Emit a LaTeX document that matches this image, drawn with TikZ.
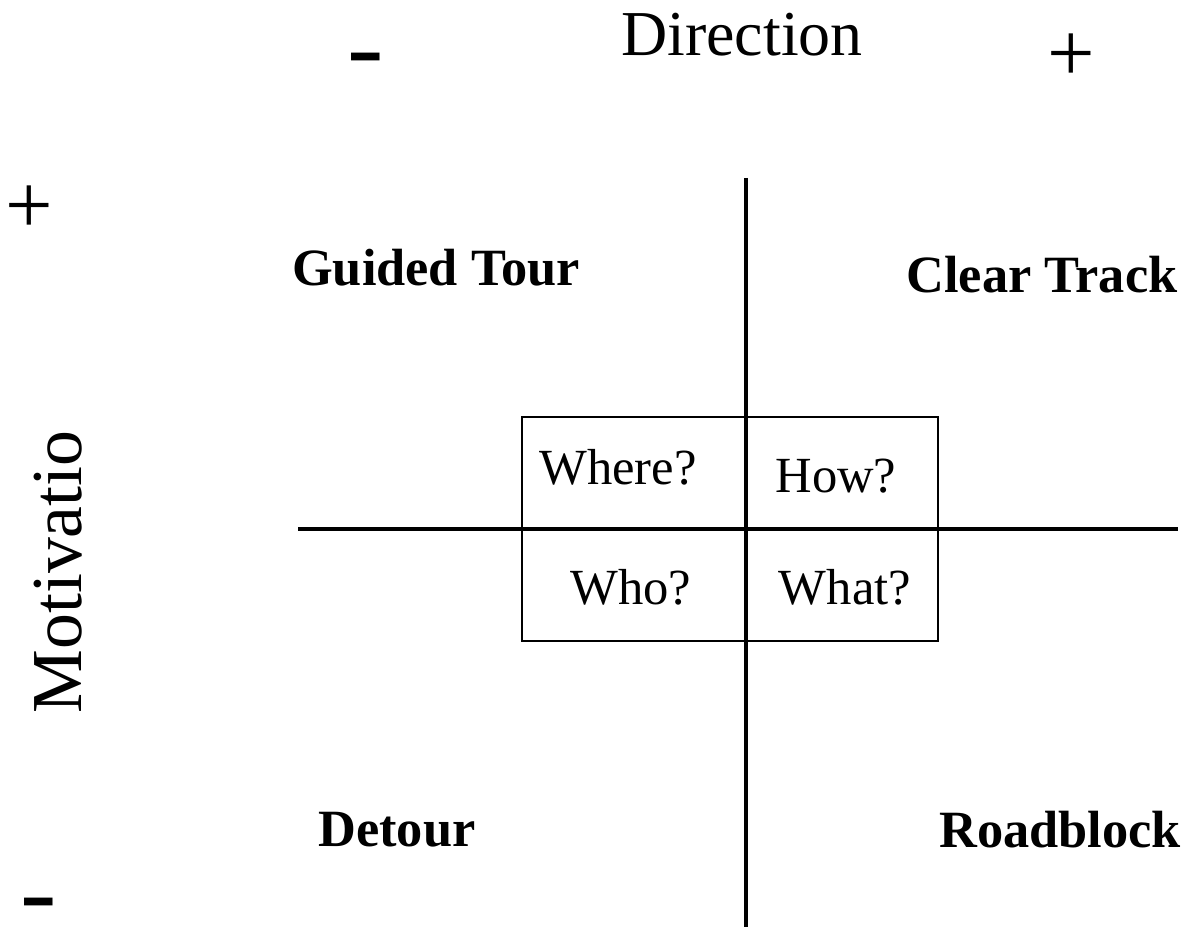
\documentclass[tikz,border=0pt]{standalone}
\usepackage{fontspec}
\setmainfont{Liberation Serif}
\usetikzlibrary{positioning}
\tikzset{%
  % Specifications for style of nodes:
        base/.style = {inner sep=0pt, font=\normalfont},
    quadrant/.style = {base, font=\fontsize{14.9}{18}\selectfont\bfseries},
    question/.style = {base, font=\fontsize{14.4}{17}\selectfont},
   axislabel/.style = {base, font=\fontsize{18.2}{22}\selectfont},
    sideaxis/.style = {base, font=\fontsize{20.4}{25}\selectfont, rotate=90},
        sign/.style = {base, font=\fontsize{24}{28}\selectfont},
   minussign/.style = {base, font=\fontsize{26}{30}\selectfont\bfseries, xscale=1.2},
        axis/.style = {line width=1.15pt},
}

\begin{document}
\begin{tikzpicture}[x=0.1mm, y=-0.1mm]
\useasboundingbox (0,0) rectangle (1195,927);

% axes
\coordinate (Top)    at (746,178);
\coordinate (Bottom) at (746,927);
\coordinate (Left)   at (298,529);
\coordinate (Right)  at (1178,529);
\draw[axis] (Top) -- (Bottom);
\draw[axis] (Left) -- (Right);

% box round the questions
\draw[line width=0.45pt] (522,417) rectangle (938,641);

\node (Dir)      [axislabel] at (742,35)  {Direction};
\node (DirMinus) [minussign] at (366,66)  {-};
\node (DirPlus)  [sign]      at (1071,58) {+};

\node (Mot)      [sideaxis]  at (58,572)  {Motivatio};
\node (MotPlus)  [sign]      at (29,210)  {+};
\node (MotMinus) [minussign] at (39,911)  {-};

\node (GT)       [quadrant]  at (436,268) {Guided Tour};
\node (CT)       [quadrant]  at (1042,275) {Clear Track};
\node (DT)       [quadrant]  at (397,830) {Detour};
\node (RB)       [quadrant]  at (1060,830) {Roadblock};

\node (Where)    [question]  at (618,467) {Where?};
\node (How)      [question]  at (836,476) {How?};
\node (Who)      [question]  at (631,587) {Who?};
\node (What)     [question]  at (845,587) {What?};
\end{tikzpicture}
\end{document}
